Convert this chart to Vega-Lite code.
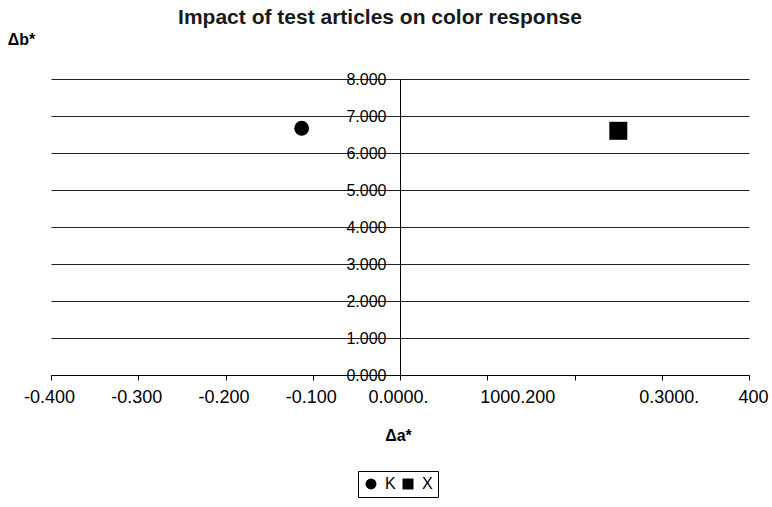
{
  "$schema": "https://vega.github.io/schema/vega-lite/v6.json",
  "width": 698,
  "height": 296,
  "autosize": {"type": "none"},
  "padding": {"left": 51, "top": 79, "right": 23, "bottom": 132},
  "background": "white",
  "config": {"font": "Liberation Sans", "view": {"stroke": null}},
  "title": {
    "text": "Impact of test articles on color response",
    "fontSize": 21,
    "fontWeight": "bold",
    "color": "#1a1a1a",
    "anchor": "middle",
    "offset": 3,
    "dx": -20
  },
  "data": {
    "values": [
      {"series": "K", "da": -0.1127, "db": 6.67},
      {"series": "X", "da": 0.2502, "db": 6.6}
    ]
  },
  "mark": {"type": "point", "filled": true, "opacity": 1},
  "encoding": {
    "x": {
      "field": "da",
      "type": "quantitative",
      "scale": {"domain": [-0.4, 0.4], "nice": false, "zero": false},
      "axis": {
        "values": [-0.4, -0.3, -0.2, -0.1, 0, 0.1, 0.2, 0.3, 0.4],
        "grid": false,
        "domainColor": "black",
        "tickColor": "black",
        "tickSize": 5,
        "labelFontSize": 18,
        "labelColor": "black",
        "labelPadding": 8,
        "labelFlush": false,
        "labelOverlap": false,
        "labelExpr": "round(datum.value*10) == -4 ? '-0.400' : round(datum.value*10) == -3 ? '-0.300' : round(datum.value*10) == -2 ? '-0.200' : round(datum.value*10) == -1 ? '-0.100' : round(datum.value*10) == 0 ? '0.0000.' : round(datum.value*10) == 1 ? '1000.200' : round(datum.value*10) == 3 ? '0.3000.' : round(datum.value*10) == 4 ? '400' : ''",
        "labelOffset": {
          "condition": [
            {"test": "round(datum.value*10) == 1", "value": 30},
            {"test": "round(datum.value*10) == 3", "value": 7},
            {"test": "round(datum.value*10) == 4", "value": 4},
            {"test": "round(datum.value*10) == 0", "value": -2}
          ],
          "value": -2
        },
        "title": "Δa*",
        "titleFontSize": 16,
        "titleFontWeight": "bold",
        "titleColor": "black",
        "titleBaseline": "middle",
        "titleY": 60,
        "titleX": 347
      }
    },
    "y": {
      "field": "db",
      "type": "quantitative",
      "scale": {"domain": [0, 8], "nice": false},
      "axis": {
        "values": [0, 1, 2, 3, 4, 5, 6, 7, 8],
        "format": ".3f",
        "offset": -349,
        "grid": true,
        "gridColor": "#222",
        "gridWidth": 1,
        "domainColor": "black",
        "tickSize": 0,
        "labelPadding": 14,
        "labelFontSize": 16,
        "labelColor": "black",
        "title": "Δb*",
        "titleAngle": 0,
        "titleX": -379,
        "titleY": -40,
        "titleFontSize": 16,
        "titleFontWeight": "bold",
        "titleColor": "black",
        "titleAlign": "center",
        "titleBaseline": "middle"
      }
    },
    "shape": {
      "field": "series",
      "type": "nominal",
      "scale": {"domain": ["K", "X"], "range": ["circle", "square"]},
      "legend": {
        "orient": "none",
        "legendX": 307,
        "legendY": 392,
        "direction": "horizontal",
        "title": null,
        "strokeColor": "black",
        "padding": 5,
        "labelFontSize": 16,
        "labelColor": "black",
        "symbolFillColor": "black",
        "symbolStrokeColor": "black",
        "symbolStrokeWidth": 0,
        "symbolSize": 120,
        "columnPadding": 4,
        "labelOffset": 6,
        "encode": {
          "symbols": {
            "update": {
              "size": {"signal": "datum.value === 'K' ? 70 : 180"}
            }
          }
        }
      }
    },
    "size": {
      "condition": {"test": "datum.series === 'K'", "value": 220},
      "value": 324
    },
    "color": {"value": "black"}
  }
}
